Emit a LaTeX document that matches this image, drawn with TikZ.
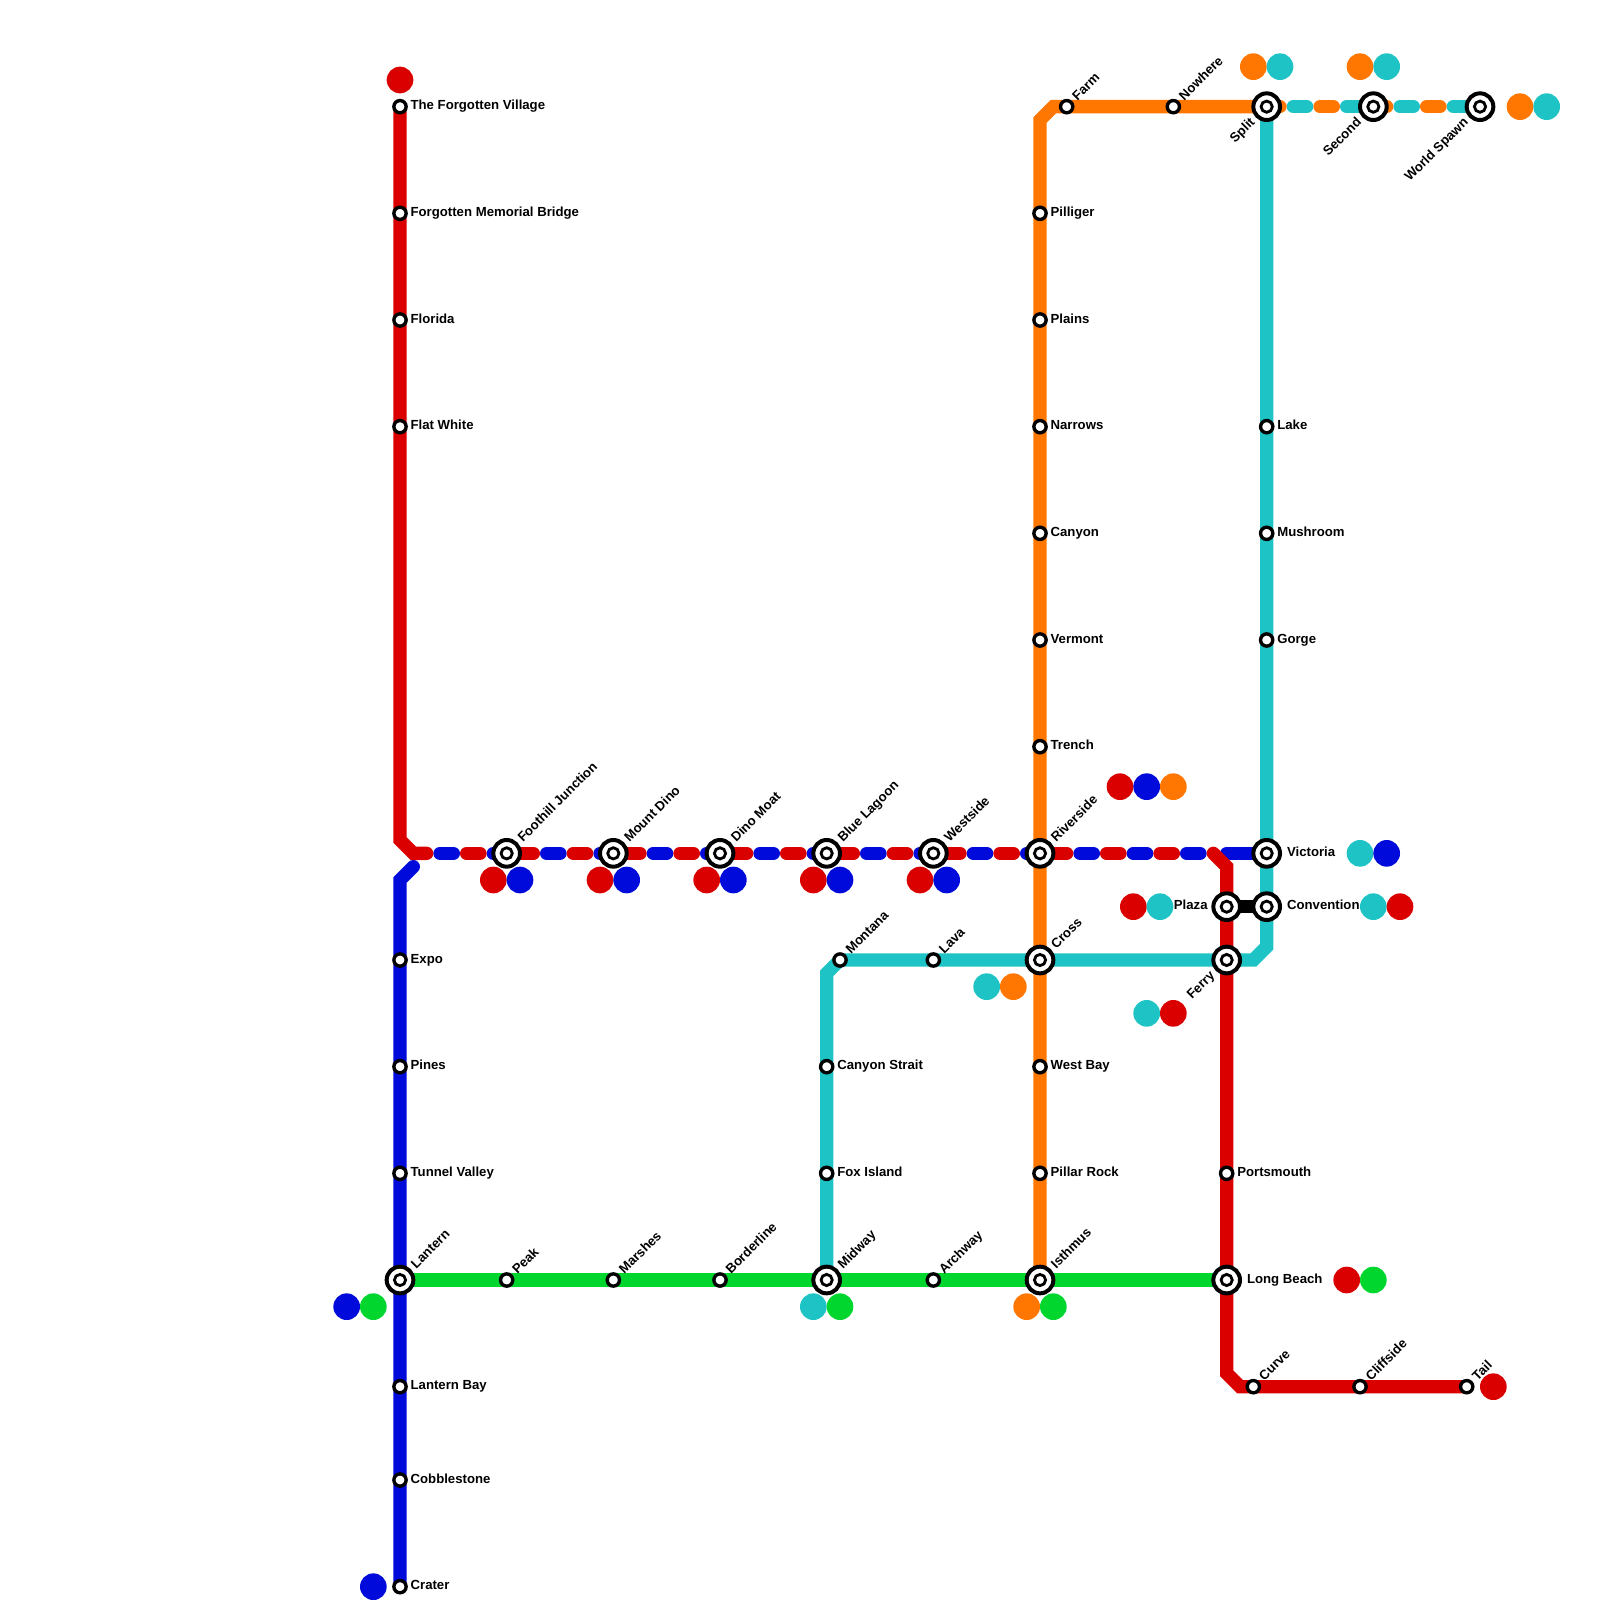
\documentclass[tikz,border=0pt]{standalone}
\usepackage{fontspec}
\setsansfont{Liberation Sans}
\usepackage{tikz}
\usetikzlibrary{backgrounds}
\definecolor{linered}{RGB}{219,0,0}
\definecolor{lineblue}{RGB}{0,10,219}
\definecolor{linegreen}{RGB}{0,214,46}
\definecolor{linecyan}{RGB}{30,195,198}
\definecolor{lineorange}{RGB}{255,119,0}
\tikzset{
   ring/.style={circle,draw=black,fill=white,inner sep=0pt},
   stop/.style={ring,line width=1.8pt,minimum size=0.23cm},
   hub/.style={ring,line width=2.13pt,minimum size=0.5cm,label={[ring,line width=1.5pt,minimum size=0.21cm]center:{}}},
   track/.style={line width=0.25cm},
   dashes/.style={track,line cap=round,dash pattern=on 0.25cm off 0.75cm},
   spot/.style={circle,minimum size=0.5cm,inner sep=0pt},
   tag/.style={font=\sffamily\bfseries\fontsize{7.03}{8}\selectfont,inner sep=1.3pt,text height=5pt,text depth=1.7pt},
   tage/.style={tag,anchor=west},
   tagh/.style={tage,xshift=1.2pt},
   tagw/.style={tag,anchor=east,xshift=-0.5pt},
   tagne/.style={tag,rotate=45,anchor=west,xshift=0.5pt,yshift=-0.5pt},
   tagsw/.style={tag,rotate=45,anchor=east,xshift=-0.8pt,yshift=-0.3pt},
}
\newcommand{\stn}[6]{%
   \node[#1] (#2) at (#3) {};
   \node[#4] (#2tag) at (#2.#5) {#6};}
\begin{document}
\begin{tikzpicture}[x=0.5cm,y=-0.5cm]
   \useasboundingbox (0,0) rectangle (60,60);
   % red line
   \stn{stop}{village}{15,4}{tage}{east}{The Forgotten Village}
   \stn{stop}{bridge}{15,8}{tage}{east}{Forgotten Memorial Bridge}
   \stn{stop}{florida}{15,12}{tage}{east}{Florida}
   \stn{stop}{flatwhite}{15,16}{tage}{east}{Flat White}
   \stn{hub}{foothill}{19,32}{tagne}{45}{Foothill Junction}
   \stn{hub}{mountdino}{23,32}{tagne}{45}{Mount Dino}
   \stn{hub}{dinomoat}{27,32}{tagne}{45}{Dino Moat}
   \stn{hub}{lagoon}{31,32}{tagne}{45}{Blue Lagoon}
   \stn{hub}{westside}{35,32}{tagne}{45}{Westside}
   \stn{hub}{riverside}{39,32}{tagne}{45}{Riverside}
   \stn{hub}{plaza}{46,34}{tagw}{west}{Plaza}
   \stn{hub}{ferry}{46,36}{tagsw}{225}{Ferry}
   \stn{stop}{portsmouth}{46,44}{tage}{east}{Portsmouth}
   \stn{hub}{longbeach}{46,48}{tagh}{east}{Long Beach}
   \stn{stop}{curve}{47,52}{tagne}{45}{Curve}
   \stn{stop}{cliffside}{51,52}{tagne}{45}{Cliffside}
   \stn{stop}{tail}{55,52}{tagne}{45}{Tail}
   % blue line
   \stn{stop}{expo}{15,36}{tage}{east}{Expo}
   \stn{stop}{pines}{15,40}{tage}{east}{Pines}
   \stn{stop}{tunnel}{15,44}{tage}{east}{Tunnel Valley}
   \stn{hub}{lantern}{15,48}{tagne}{45}{Lantern}
   \stn{stop}{lanternbay}{15,52}{tage}{east}{Lantern Bay}
   \stn{stop}{cobble}{15,55.5}{tage}{east}{Cobblestone}
   \stn{stop}{crater}{15,59.5}{tage}{east}{Crater}
   % green line
   \stn{stop}{peak}{19,48}{tagne}{45}{Peak}
   \stn{stop}{marshes}{23,48}{tagne}{45}{Marshes}
   \stn{stop}{borderline}{27,48}{tagne}{45}{Borderline}
   \stn{hub}{midway}{31,48}{tagne}{45}{Midway}
   \stn{stop}{archway}{35,48}{tagne}{45}{Archway}
   \stn{hub}{isthmus}{39,48}{tagne}{45}{Isthmus}
   % cyan line
   \stn{stop}{montana}{31.5,36}{tagne}{45}{Montana}
   \stn{stop}{lava}{35,36}{tagne}{45}{Lava}
   \stn{hub}{cross}{39,36}{tagne}{45}{Cross}
   \stn{stop}{strait}{31,40}{tage}{east}{Canyon Strait}
   \stn{stop}{fox}{31,44}{tage}{east}{Fox Island}
   \stn{stop}{lake}{47.5,16}{tage}{east}{Lake}
   \stn{stop}{mushroom}{47.5,20}{tage}{east}{Mushroom}
   \stn{stop}{gorge}{47.5,24}{tage}{east}{Gorge}
   \stn{hub}{victoria}{47.5,32}{tagh}{east}{Victoria}
   \stn{hub}{convention}{47.5,34}{tagh}{east}{Convention}
   % orange line
   \stn{stop}{farm}{40,4}{tagne}{45}{Farm}
   \stn{stop}{nowhere}{44,4}{tagne}{45}{Nowhere}
   \stn{hub}{split}{47.5,4}{tagsw}{225}{Split}
   \stn{hub}{second}{51.5,4}{tagsw}{225}{Second}
   \stn{hub}{spawn}{55.5,4}{tagsw}{225}{World Spawn}
   \stn{stop}{pilliger}{39,8}{tage}{east}{Pilliger}
   \stn{stop}{plains}{39,12}{tage}{east}{Plains}
   \stn{stop}{narrows}{39,16}{tage}{east}{Narrows}
   \stn{stop}{canyon}{39,20}{tage}{east}{Canyon}
   \stn{stop}{vermont}{39,24}{tage}{east}{Vermont}
   \stn{stop}{trench}{39,28}{tage}{east}{Trench}
   \stn{stop}{westbay}{39,40}{tage}{east}{West Bay}
   \stn{stop}{pillar}{39,44}{tage}{east}{Pillar Rock}

   % bends and free ends of the tracks
   \coordinate (redturna) at (15,31.5);
   \coordinate (redturnb) at (15.5,32);
   \coordinate (redstub) at (16,32);
   \coordinate (reddasha) at (17.5,32);
   \coordinate (reddashb) at (44,32);
   \coordinate (redturnc) at (45.5,32);
   \coordinate (redturnd) at (46,32.5);
   \coordinate (redturne) at (46,51.5);
   \coordinate (redturnf) at (46.5,52);
   \coordinate (blueturna) at (15,33);
   \coordinate (blueturnb) at (15.5,32.5);
   \coordinate (bluedasha) at (16.5,32);
   \coordinate (bluedashb) at (45,32);
   \coordinate (bluestart) at (46,32);
   \coordinate (cyanturna) at (47.5,35.5);
   \coordinate (cyanturnb) at (47,36);
   \coordinate (cyanturnc) at (31.5,36);
   \coordinate (cyanturnd) at (31,36.5);
   \coordinate (cyandasha) at (48.5,4);
   \coordinate (cyandashb) at (55,4);
   \coordinate (orangeturna) at (39,4.5);
   \coordinate (orangeturnb) at (39.5,4);
   \coordinate (orangedashb) at (54,4);

   \begin{pgfonlayer}{background}
      \draw[track,linecyan] (split.center) -- (cyanturna) -- (cyanturnb) -- (cyanturnc) -- (cyanturnd) -- (midway.center);
      \draw[dashes,linecyan] (cyandasha) -- (cyandashb);
      \draw[track,lineorange] (isthmus.center) -- (orangeturna) -- (orangeturnb) -- (split.center);
      \draw[dashes,lineorange] (split.center) -- (orangedashb);
      \draw[track,linegreen] (lantern.center) -- (longbeach.center);
      \draw[track,line cap=round,lineblue] (crater.center) -- (blueturna) -- (blueturnb);
      \draw[dashes,lineblue] (bluedasha) -- (bluedashb);
      \draw[track,line cap=round,lineblue] (bluestart) -- (victoria.center);
      \draw[track,line cap=round,linered] (village.center) -- (redturna) -- (redturnb) -- (redstub);
      \draw[dashes,linered] (reddasha) -- (reddashb);
      \draw[track,line cap=round,linered] (redturnc) -- (redturnd) -- (redturne) -- (redturnf) -- (tail.center);
      \draw[track,black] (plaza.center) -- (convention.center);
   \end{pgfonlayer}

   % line spots beside the stations
   \node[spot,fill=linered] (villagespot) at (15,3) {};
   \node[spot,fill=linered] (foothillspota) at (18.5,33) {};
   \node[spot,fill=lineblue] (foothillspotb) at (19.5,33) {};
   \node[spot,fill=linered] (mountdinospota) at (22.5,33) {};
   \node[spot,fill=lineblue] (mountdinospotb) at (23.5,33) {};
   \node[spot,fill=linered] (dinomoatspota) at (26.5,33) {};
   \node[spot,fill=lineblue] (dinomoatspotb) at (27.5,33) {};
   \node[spot,fill=linered] (lagoonspota) at (30.5,33) {};
   \node[spot,fill=lineblue] (lagoonspotb) at (31.5,33) {};
   \node[spot,fill=linered] (westsidespota) at (34.5,33) {};
   \node[spot,fill=lineblue] (westsidespotb) at (35.5,33) {};
   \node[spot,fill=linered] (riverspota) at (42,29.5) {};
   \node[spot,fill=lineblue] (riverspotb) at (43,29.5) {};
   \node[spot,fill=lineorange] (riverspotc) at (44,29.5) {};
   \node[spot,fill=linecyan] (victoriaspota) at (51,32) {};
   \node[spot,fill=lineblue] (victoriaspotb) at (52,32) {};
   \node[spot,fill=linered] (plazaspota) at (42.5,34) {};
   \node[spot,fill=linecyan] (plazaspotb) at (43.5,34) {};
   \node[spot,fill=linecyan] (conventionspota) at (51.5,34) {};
   \node[spot,fill=linered] (conventionspotb) at (52.5,34) {};
   \node[spot,fill=linecyan] (ferryspota) at (43,38) {};
   \node[spot,fill=linered] (ferryspotb) at (44,38) {};
   \node[spot,fill=linecyan] (crossspota) at (37,37) {};
   \node[spot,fill=lineorange] (crossspotb) at (38,37) {};
   \node[spot,fill=lineblue] (lanternspota) at (13,49) {};
   \node[spot,fill=linegreen] (lanternspotb) at (14,49) {};
   \node[spot,fill=linecyan] (midwayspota) at (30.5,49) {};
   \node[spot,fill=linegreen] (midwayspotb) at (31.5,49) {};
   \node[spot,fill=lineorange] (isthmusspota) at (38.5,49) {};
   \node[spot,fill=linegreen] (isthmusspotb) at (39.5,49) {};
   \node[spot,fill=linered] (beachspota) at (50.5,48) {};
   \node[spot,fill=linegreen] (beachspotb) at (51.5,48) {};
   \node[spot,fill=linered] (tailspot) at (56,52) {};
   \node[spot,fill=lineblue] (craterspot) at (14,59.5) {};
   \node[spot,fill=lineorange] (splitspota) at (47,2.5) {};
   \node[spot,fill=linecyan] (splitspotb) at (48,2.5) {};
   \node[spot,fill=lineorange] (secondspota) at (51,2.5) {};
   \node[spot,fill=linecyan] (secondspotb) at (52,2.5) {};
   \node[spot,fill=lineorange] (spawnspota) at (57,4) {};
   \node[spot,fill=linecyan] (spawnspotb) at (58,4) {};
\end{tikzpicture}
\end{document}
